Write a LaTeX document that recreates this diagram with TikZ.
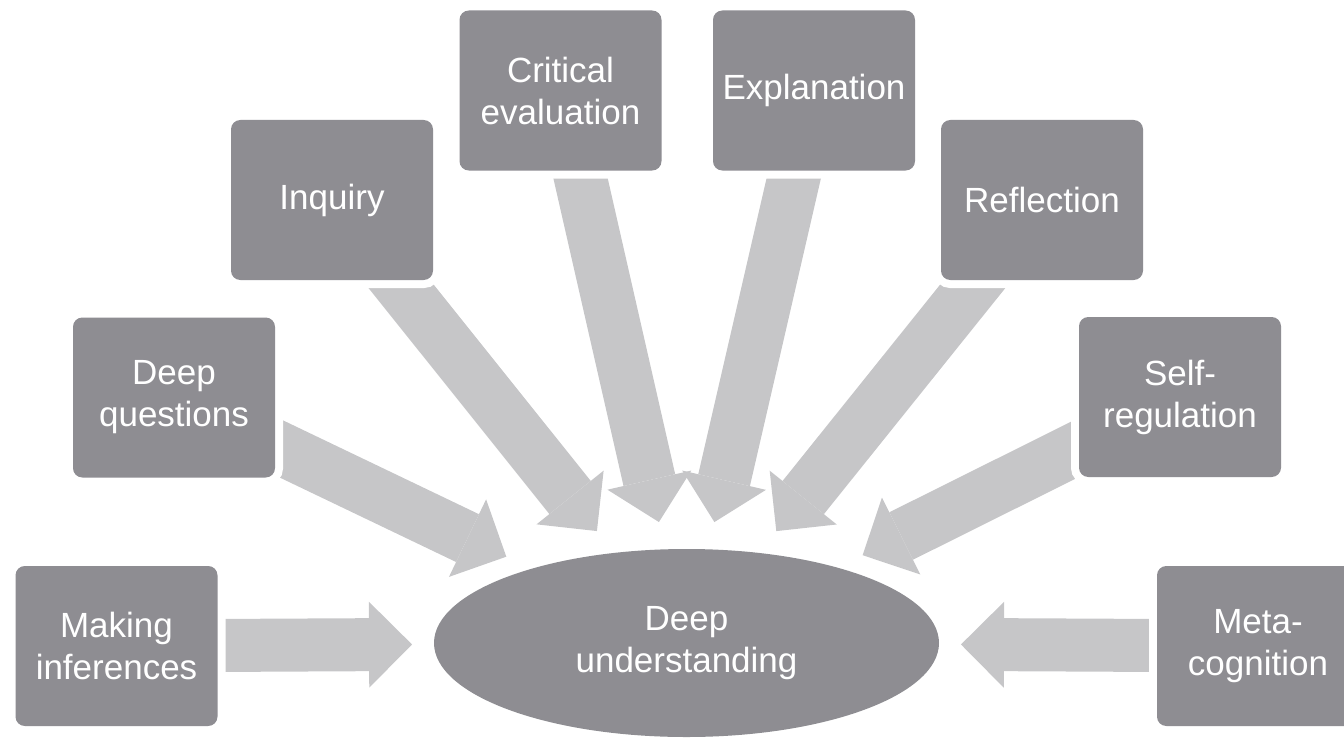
\documentclass[tikz,border=0pt]{standalone}
\usepackage{fontspec}
\setmainfont{Liberation Sans}
\usetikzlibrary{arrows.meta,shapes.geometric}
\definecolor{boxgray}{HTML}{8E8D92}
\definecolor{arrowgray}{HTML}{C6C6C8}
\pgfdeclarelayer{arrows}
\pgfsetlayers{arrows,main}
\tikzset{
  box/.style={fill=boxgray, text=white, rounded corners=7pt, minimum width=151.5pt, minimum height=120pt,
    align=center, inner sep=0pt, outer sep=0pt, font=\fontsize{26.25}{31.5}\selectfont,
    preaction={draw=white, line width=12pt}},
  hub/.style={ellipse, fill=boxgray, text=white, minimum width=378.75pt, minimum height=141pt,
    align=center, inner sep=0pt, outer sep=0pt, font=\fontsize{26.25}{31.5}\selectfont},
  flow/.style={draw=arrowgray, line width=39.75pt, -{Triangle[length=32.25pt, width=64.5pt, line width=0pt]},
    shorten >=21pt},
}

\begin{document}
\begin{tikzpicture}[x=0.75pt,y=-0.75pt]
  \useasboundingbox (0,0) rectangle (1344,738);
  % the ring of sources
  \node[box] (infer)   at (116.5,646) {Making\\inferences};
  \node[box] (quest)   at (174,397.5) {Deep\\questions};
  \node[box] (inquiry) at (332,200)   {Inquiry};
  \node[box] (crit)    at (560.5,90.5) {Critical\\evaluation};
  \node[box] (expl)    at (814,90.5)  {Explanation};
  \node[box] (refl)    at (1042,200)  {Reflection};
  \node[box] (selfreg) at (1180,397)  {Self-\\regulation};
  \node[box] (meta)    at (1258,646)  {Meta-\\cognition};
  \node[hub] (goal)    at (686.5,643) {Deep\\understanding};
  % fat arrows go behind the boxes
  \begin{pgfonlayer}{arrows}
    \foreach \src in {quest,inquiry,crit,expl,refl,selfreg}
      \draw[flow] (\src.center) -- (goal);
    \draw[flow, shorten >=16.5pt] (infer.center) -- (goal);
    \draw[flow, shorten >=16.5pt] (meta.center) -- (goal);
  \end{pgfonlayer}
\end{tikzpicture}
\end{document}
